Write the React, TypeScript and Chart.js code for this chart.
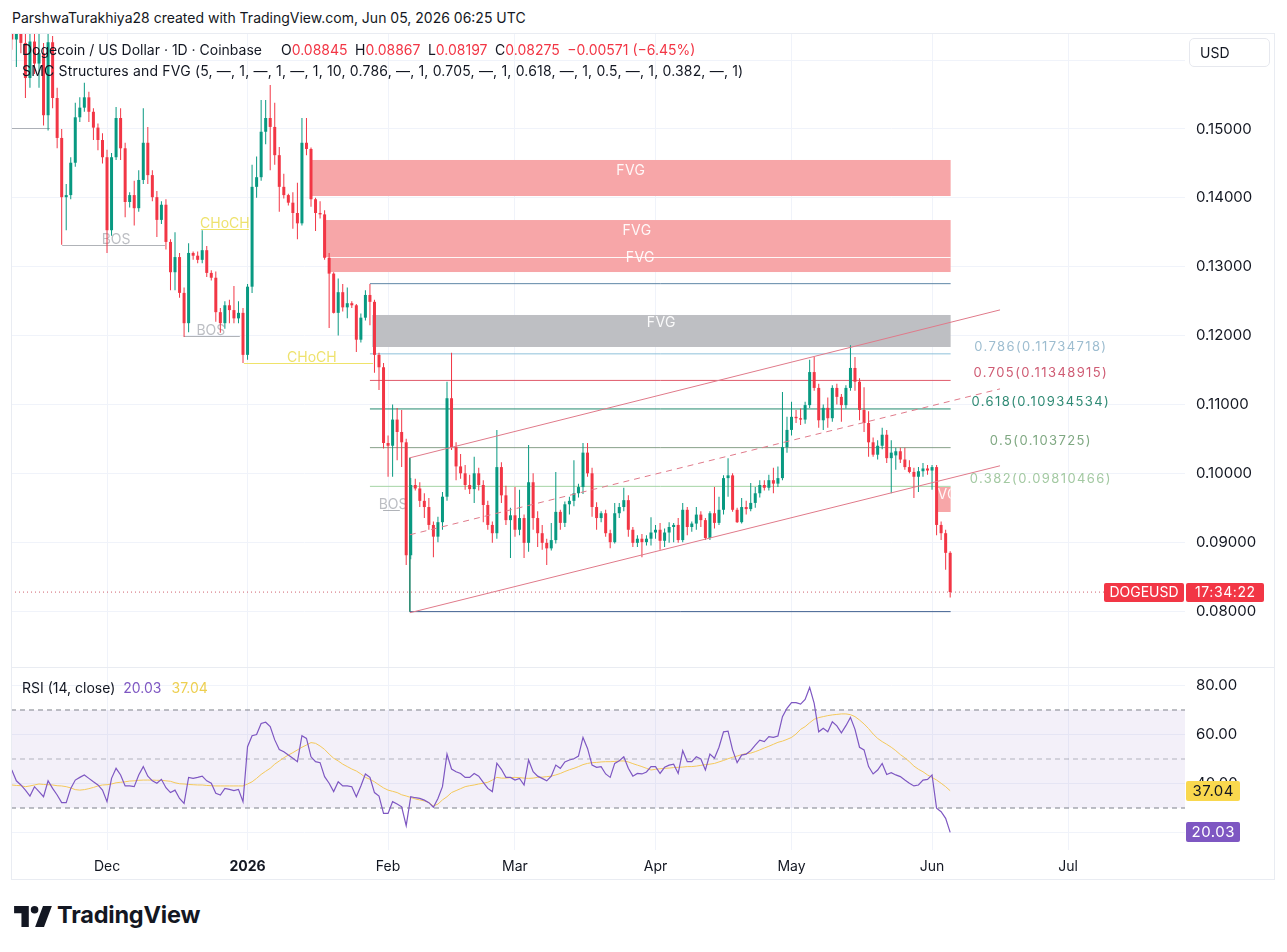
import React, { useEffect, useRef } from 'react';
import { Chart, registerables } from 'chart.js';

Chart.register(...registerables);

// ---------------- styles ----------------
const FONT = 'Inter, "Noto Sans", "DejaVu Sans", sans-serif';
const TEXT = '#131722';
const UP = '#089981';
const DOWN = '#F23645';
const GRID = '#F0F3FA';
const RSI_COLOR = '#7E57C2';
const RSI_MA_COLOR = '#F4C85A';
const RSI_MA_BADGE = '#F9D84E';
const CHANNEL_COLOR = '#E07A8A';
const ZONE_RED = '#F7A6A8';
const ZONE_GRAY = '#BEBFC3';

// ---------------- data ----------------
// day 0 = 1 Dec 2025, first candle = 10 Nov 2025, last = 5 Jun 2026 (1D DOGE/USD)
const FIRST_DAY = -21;

const OPEN = [
  0.1650, 0.1630, 0.1655, 0.1625, 0.1574, 0.1627, 0.1595, 0.1610, 0.1520, 0.1626,
  0.1545, 0.1487, 0.1401, 0.1404, 0.1451, 0.1517, 0.1531, 0.1546, 0.1525, 0.1502,
  0.1484, 0.1459, 0.1353, 0.1459, 0.1516, 0.1472, 0.1394, 0.1404, 0.1385, 0.1426,
  0.1480, 0.1433, 0.1401, 0.1368, 0.1390, 0.1336, 0.1292, 0.1314, 0.1262, 0.1218,
  0.1320, 0.1316, 0.1310, 0.1324, 0.1291, 0.1284, 0.1234, 0.1218, 0.1244, 0.1237,
  0.1225, 0.1233, 0.1172, 0.1271, 0.1416, 0.1430, 0.1496, 0.1516, 0.1503, 0.1462,
  0.1416, 0.1404, 0.1393, 0.1378, 0.1363, 0.1480, 0.1471, 0.1398, 0.1378, 0.1376,
  0.1313, 0.1290, 0.1233, 0.1263, 0.1241, 0.1247, 0.1244, 0.1194, 0.1226, 0.1259,
  0.1249, 0.1172, 0.1154, 0.1044, 0.1040, 0.1078, 0.1060, 0.1045, 0.0881, 0.0983,
  0.0978, 0.0960, 0.0951, 0.0925, 0.0908, 0.0929, 0.0966, 0.1109, 0.1038, 0.1010,
  0.1000, 0.0983, 0.0977, 0.1000, 0.0983, 0.0954, 0.0925, 0.0913, 0.1009, 0.0968,
  0.0932, 0.0939, 0.0918, 0.0935, 0.0899, 0.0987, 0.0935, 0.0913, 0.0899, 0.0891,
  0.0903, 0.0944, 0.0928, 0.0955, 0.0960, 0.0971, 0.0980, 0.1030, 0.1000, 0.0951,
  0.0935, 0.0942, 0.0913, 0.0900, 0.0942, 0.0951, 0.0961, 0.0918, 0.0899, 0.0905,
  0.0900, 0.0905, 0.0914, 0.0918, 0.0902, 0.0914, 0.0922, 0.0925, 0.0903, 0.0947,
  0.0922, 0.0927, 0.0940, 0.0932, 0.0906, 0.0942, 0.0928, 0.0947, 0.0993, 0.0997,
  0.0947, 0.0929, 0.0951, 0.0948, 0.0957, 0.0971, 0.0983, 0.0979, 0.0990, 0.0985,
  0.0993, 0.1038, 0.1063, 0.1082, 0.1080, 0.1078, 0.1099, 0.1147, 0.1124, 0.1077,
  0.1095, 0.1080, 0.1124, 0.1111, 0.1099, 0.1124, 0.1153, 0.1133, 0.1092, 0.1073,
  0.1045, 0.1027, 0.1040, 0.1056, 0.1022, 0.1026, 0.1032, 0.1020, 0.1009, 0.1002,
  0.0995, 0.1003, 0.1007, 0.1004, 0.1009, 0.0925, 0.0913, 0.08845,
];
const HIGH = [
  0.1690, 0.1668, 0.1680, 0.1650, 0.1650, 0.1660, 0.1640, 0.1625, 0.1645, 0.1635,
  0.1560, 0.1500, 0.1420, 0.1459, 0.1538, 0.1546, 0.1567, 0.1554, 0.1530, 0.1508,
  0.1494, 0.1470, 0.1465, 0.1532, 0.1530, 0.1480, 0.1408, 0.1425, 0.1440, 0.1530,
  0.1503, 0.1440, 0.1410, 0.1395, 0.1398, 0.1340, 0.1350, 0.1320, 0.1270, 0.1334,
  0.1322, 0.1322, 0.1353, 0.1330, 0.1295, 0.1293, 0.1240, 0.1250, 0.1252, 0.1272,
  0.1250, 0.1240, 0.1275, 0.1448, 0.1460, 0.1542, 0.1542, 0.1564, 0.1538, 0.1474,
  0.1435, 0.1406, 0.1408, 0.1422, 0.1516, 0.1516, 0.1473, 0.1400, 0.1395, 0.1382,
  0.1320, 0.1292, 0.1283, 0.1275, 0.1270, 0.1250, 0.1246, 0.1232, 0.1266, 0.1275,
  0.1252, 0.1175, 0.1160, 0.1055, 0.1100, 0.1095, 0.1092, 0.1050, 0.0993, 0.0992,
  0.0987, 0.0971, 0.0964, 0.0930, 0.0937, 0.0973, 0.1133, 0.1175, 0.1045, 0.1028,
  0.1012, 0.0998, 0.1024, 0.1008, 0.0990, 0.0960, 0.0930, 0.1063, 0.1016, 0.0982,
  0.0950, 0.0980, 0.0976, 0.0940, 0.1041, 0.1000, 0.0945, 0.0925, 0.0905, 0.0928,
  0.1002, 0.0947, 0.0959, 0.0966, 0.1019, 0.0985, 0.1044, 0.1044, 0.1008, 0.0958,
  0.0945, 0.0947, 0.0918, 0.0957, 0.0957, 0.0979, 0.0968, 0.0922, 0.0910, 0.0912,
  0.0910, 0.0936, 0.0925, 0.0928, 0.0920, 0.0929, 0.0928, 0.0935, 0.0957, 0.0951,
  0.0930, 0.0951, 0.0945, 0.0935, 0.0945, 0.0980, 0.0966, 0.0997, 0.1022, 0.1000,
  0.0950, 0.0964, 0.0960, 0.0986, 0.0980, 0.0990, 0.0990, 0.0998, 0.1008, 0.1010,
  0.1118, 0.1082, 0.1104, 0.1092, 0.1094, 0.1104, 0.1165, 0.1169, 0.1130, 0.1100,
  0.1110, 0.1128, 0.1130, 0.1115, 0.1128, 0.1186, 0.1169, 0.1138, 0.1125, 0.1090,
  0.1052, 0.1048, 0.1066, 0.1063, 0.1048, 0.1037, 0.1037, 0.1037, 0.1019, 0.1008,
  0.1009, 0.1015, 0.1012, 0.1012, 0.1012, 0.0930, 0.0918, 0.08867,
];
const LOW = [
  0.1615, 0.1590, 0.1610, 0.1545, 0.1560, 0.1580, 0.1560, 0.1505, 0.1498, 0.1530,
  0.1472, 0.1332, 0.1353, 0.1398, 0.1445, 0.1510, 0.1525, 0.1510, 0.1484, 0.1469,
  0.1450, 0.1320, 0.1345, 0.1455, 0.1455, 0.1372, 0.1386, 0.1360, 0.1380, 0.1420,
  0.1420, 0.1395, 0.1343, 0.1362, 0.1325, 0.1266, 0.1266, 0.1255, 0.1198, 0.1205,
  0.1310, 0.1305, 0.1305, 0.1285, 0.1280, 0.1220, 0.1204, 0.1210, 0.1218, 0.1218,
  0.1218, 0.1160, 0.1165, 0.1262, 0.1400, 0.1425, 0.1478, 0.1440, 0.1448, 0.1380,
  0.1399, 0.1389, 0.1355, 0.1340, 0.1360, 0.1462, 0.1387, 0.1352, 0.1370, 0.1310,
  0.1211, 0.1232, 0.1200, 0.1235, 0.1225, 0.1240, 0.1176, 0.1190, 0.1222, 0.1215,
  0.1146, 0.1121, 0.1036, 0.0995, 0.0995, 0.1019, 0.1009, 0.0867, 0.0875, 0.0975,
  0.0951, 0.0935, 0.0918, 0.0878, 0.0900, 0.0918, 0.0960, 0.1034, 0.0990, 0.0992,
  0.0976, 0.0970, 0.0957, 0.0975, 0.0929, 0.0918, 0.0899, 0.0905, 0.0957, 0.0925,
  0.0877, 0.0908, 0.0910, 0.0877, 0.0886, 0.0918, 0.0893, 0.0889, 0.0867, 0.0888,
  0.0898, 0.0918, 0.0922, 0.0940, 0.0952, 0.0965, 0.0970, 0.0995, 0.0937, 0.0918,
  0.0929, 0.0908, 0.0891, 0.0898, 0.0935, 0.0945, 0.0908, 0.0893, 0.0893, 0.0878,
  0.0895, 0.0895, 0.0905, 0.0889, 0.0893, 0.0899, 0.0900, 0.0899, 0.0900, 0.0910,
  0.0915, 0.0918, 0.0922, 0.0903, 0.0903, 0.0920, 0.0925, 0.0940, 0.0966, 0.0944,
  0.0928, 0.0927, 0.0940, 0.0945, 0.0950, 0.0965, 0.0975, 0.0975, 0.0971, 0.0980,
  0.0990, 0.1030, 0.1055, 0.1073, 0.1070, 0.1072, 0.1095, 0.1120, 0.1066, 0.1063,
  0.1066, 0.1075, 0.1100, 0.1075, 0.1094, 0.1120, 0.1120, 0.1077, 0.1060, 0.1024,
  0.1024, 0.1020, 0.1035, 0.1015, 0.0971, 0.1005, 0.1015, 0.1005, 0.1000, 0.0964,
  0.0973, 0.0995, 0.0998, 0.0976, 0.0910, 0.0903, 0.0860, 0.08197,
];
const CLOSE = [
  0.1630, 0.1655, 0.1625, 0.1574, 0.1627, 0.1595, 0.1610, 0.1520, 0.1626, 0.1545,
  0.1487, 0.1401, 0.1404, 0.1451, 0.1517, 0.1531, 0.1546, 0.1525, 0.1502, 0.1484,
  0.1459, 0.1353, 0.1459, 0.1516, 0.1472, 0.1394, 0.1404, 0.1385, 0.1426, 0.1480,
  0.1433, 0.1401, 0.1368, 0.1390, 0.1336, 0.1292, 0.1314, 0.1262, 0.1218, 0.1320,
  0.1316, 0.1310, 0.1324, 0.1291, 0.1284, 0.1234, 0.1218, 0.1244, 0.1237, 0.1225,
  0.1233, 0.1172, 0.1271, 0.1416, 0.1430, 0.1496, 0.1516, 0.1503, 0.1462, 0.1416,
  0.1404, 0.1393, 0.1378, 0.1363, 0.1480, 0.1471, 0.1398, 0.1378, 0.1376, 0.1313,
  0.1290, 0.1233, 0.1263, 0.1241, 0.1247, 0.1244, 0.1194, 0.1226, 0.1259, 0.1249,
  0.1172, 0.1154, 0.1044, 0.1040, 0.1078, 0.1060, 0.1045, 0.0881, 0.0983, 0.0978,
  0.0960, 0.0951, 0.0925, 0.0908, 0.0929, 0.0966, 0.1109, 0.1038, 0.1010, 0.1000,
  0.0983, 0.0977, 0.1000, 0.0983, 0.0954, 0.0925, 0.0913, 0.1009, 0.0968, 0.0932,
  0.0939, 0.0918, 0.0935, 0.0899, 0.0987, 0.0935, 0.0913, 0.0899, 0.0891, 0.0903,
  0.0944, 0.0928, 0.0955, 0.0960, 0.0971, 0.0980, 0.1030, 0.1000, 0.0951, 0.0935,
  0.0942, 0.0913, 0.0900, 0.0942, 0.0951, 0.0961, 0.0918, 0.0899, 0.0905, 0.0900,
  0.0905, 0.0914, 0.0918, 0.0902, 0.0914, 0.0922, 0.0925, 0.0903, 0.0947, 0.0922,
  0.0927, 0.0940, 0.0932, 0.0906, 0.0942, 0.0928, 0.0947, 0.0993, 0.0997, 0.0947,
  0.0929, 0.0951, 0.0948, 0.0957, 0.0971, 0.0983, 0.0979, 0.0990, 0.0985, 0.0993,
  0.1038, 0.1063, 0.1082, 0.1080, 0.1078, 0.1099, 0.1147, 0.1124, 0.1077, 0.1095,
  0.1080, 0.1124, 0.1111, 0.1099, 0.1124, 0.1153, 0.1133, 0.1092, 0.1073, 0.1045,
  0.1027, 0.1040, 0.1056, 0.1022, 0.1030, 0.1032, 0.1020, 0.1009, 0.1002, 0.0995,
  0.1003, 0.1007, 0.1004, 0.1009, 0.0925, 0.0913, 0.08845, 0.08275,
];

const RSI = [
  45.5, 41.1, 39.4, 37.3, 34.9, 38.7, 36.7, 34.6, 41.1, 38.0,
  35.3, 32.2, 32.2, 38.0, 41.4, 42.5, 43.5, 42.1, 40.7, 39.4,
  37.3, 32.6, 42.1, 46.2, 43.5, 39.0, 39.0, 38.7, 43.5, 46.9,
  43.0, 41.1, 40.1, 41.7, 38.3, 36.3, 37.3, 33.9, 31.9, 42.5,
  42.1, 42.5, 43.0, 41.1, 40.1, 36.0, 35.3, 38.0, 37.6, 37.1,
  37.6, 32.6, 55.0, 59.5, 60.0, 64.5, 65.0, 63.2, 57.8, 53.9,
  53.0, 51.6, 50.3, 48.9, 59.5, 58.4, 50.9, 48.9, 48.5, 42.8,
  40.1, 36.7, 40.7, 39.0, 39.0, 38.7, 34.6, 39.0, 43.9, 42.5,
  36.3, 34.9, 27.8, 27.8, 32.6, 31.6, 30.5, 22.8, 34.6, 34.2,
  33.9, 33.2, 32.2, 30.3, 33.9, 38.7, 52.0, 45.9, 44.8, 44.1,
  42.5, 42.5, 44.1, 43.0, 40.5, 38.0, 36.7, 48.3, 45.8, 42.5,
  42.5, 41.4, 42.1, 39.4, 49.6, 44.8, 43.0, 42.1, 41.1, 43.0,
  47.5, 46.2, 48.8, 49.6, 50.1, 51.2, 58.8, 54.3, 47.5, 46.6,
  46.9, 43.9, 42.5, 48.2, 49.3, 50.9, 46.2, 43.0, 44.1, 43.9,
  44.7, 46.9, 46.9, 44.1, 46.6, 47.5, 47.9, 44.1, 53.4, 48.9,
  48.9, 50.9, 50.0, 45.5, 52.0, 50.3, 54.8, 61.1, 61.4, 53.7,
  48.5, 51.6, 52.0, 53.4, 55.7, 57.7, 57.1, 59.1, 58.8, 59.4,
  67.3, 70.7, 73.0, 73.0, 72.4, 74.3, 79.2, 72.7, 61.1, 62.5,
  61.1, 65.2, 63.5, 60.7, 63.6, 67.0, 62.1, 54.8, 53.7, 46.9,
  43.9, 45.5, 48.2, 43.7, 44.4, 43.5, 42.8, 41.4, 40.1, 39.0,
  39.4, 41.4, 41.7, 43.5, 29.9, 28.5, 25.8, 20.03,
];
const RSI_MA = [
  39.4, 39.2, 39.1, 38.7, 39.0, 39.4, 39.8, 39.6, 39.5, 39.4,
  39.1, 39.0, 38.7, 38.2, 37.5, 37.3, 37.5, 37.9, 38.4, 39.0,
  39.4, 39.5, 39.8, 40.3, 40.5, 40.7, 41.0, 41.1, 41.3, 41.4,
  41.4, 41.4, 41.3, 41.3, 41.1, 40.9, 40.3, 39.9, 39.8, 39.6,
  39.5, 39.4, 39.4, 39.2, 39.1, 39.0, 39.0, 39.0, 39.0, 39.0,
  39.0, 39.0, 39.8, 40.7, 42.1, 43.7, 45.0, 46.2, 47.9, 49.2,
  50.5, 51.6, 52.6, 53.7, 54.8, 55.7, 56.7, 56.4, 55.3, 53.9,
  52.0, 50.3, 49.2, 47.9, 46.9, 45.9, 45.1, 43.9, 42.5, 41.7,
  40.7, 39.4, 38.2, 37.3, 36.8, 36.3, 35.4, 34.9, 34.3, 33.7,
  33.3, 32.9, 32.2, 30.8, 31.6, 33.3, 34.6, 36.3, 37.1, 37.9,
  38.7, 39.1, 39.4, 39.8, 40.1, 40.5, 41.4, 42.5, 42.2, 42.2,
  42.4, 42.5, 42.4, 42.2, 42.1, 42.2, 42.5, 42.6, 42.8, 43.0,
  43.5, 44.1, 44.9, 45.6, 46.2, 46.9, 47.7, 48.2, 48.5, 48.6,
  48.8, 48.9, 48.9, 49.0, 49.2, 49.2, 48.8, 48.1, 47.5, 46.9,
  46.2, 45.5, 45.8, 46.0, 46.2, 46.3, 46.5, 46.6, 46.7, 46.9,
  46.9, 47.1, 47.4, 47.7, 47.9, 48.2, 48.8, 49.4, 50.1, 50.7,
  51.2, 51.8, 52.2, 52.4, 53.0, 53.7, 54.5, 55.2, 56.0, 56.8,
  57.3, 58.0, 58.8, 60.2, 62.1, 63.2, 64.8, 66.2, 66.9, 67.3,
  67.7, 68.0, 68.2, 68.4, 68.4, 68.1, 67.3, 65.9, 64.3, 62.4,
  60.2, 58.4, 57.1, 56.0, 54.8, 53.4, 51.8, 50.5, 48.9, 47.1,
  45.8, 44.8, 43.5, 42.5, 41.4, 40.1, 38.7, 37.04,
];

const MONTH_DAYS = [0, 31, 62, 90, 121, 151, 182, 212];
const MONTH_LABELS = ['Dec', '2026', 'Feb', 'Mar', 'Apr', 'May', 'Jun', 'Jul'];
const PRICE_TICKS = [0.08, 0.09, 0.1, 0.11, 0.12, 0.13, 0.14, 0.15, 0.16];
const PRICE_LABELS = ['0.08000', '0.09000', '0.10000', '0.11000', '0.12000', '0.13000', '0.14000', '0.15000', ''];
const RSI_TICKS = [20, 40, 60, 80];
const RSI_LABELS = ['20.00', '40.00', '60.00', '80.00'];
const RSI_BANDS = [70, 50, 30];

const LAST_PRICE = 0.08275;
const LEGEND_OHLC = ['0.08845', '0.08867', '0.08197', '0.08275'];
const LEGEND_CHANGE = '\u22120.00571 (\u22126.45%)';
const RSI_LAST = '20.03';
const RSI_MA_LAST = '37.04';
const COUNTDOWN = '17:34:22';

// Fibonacci retracement
const FIB_RATIOS = ['0.786', '0.705', '0.618', '0.5', '0.382'];
const FIB_PRICES = [0.11734718, 0.11348915, 0.10934534, 0.103725, 0.09810466];
const FIB_ONE = 0.12754;
const FIB_ZERO = 0.07991;
const FIB_START = 58.0;
const FIB_ZERO_START = 66.8;
const FIB_END = 186.1;
const FIB_LABEL_DAY = 206.0;
const FIB_LINE_COLORS = ['#8FC1DA', '#E0596A', '#22896F', '#87A089', '#A5D4A5'];
const FIB_TEXT_COLORS = ['#9DBDD0', '#CF5B73', '#2F8A74', '#7FA882', '#A3C9A2'];

// parallel channel
const CHANNEL_DAYS = [66.8, 197.0];
const CHANNEL_UPPER = [0.10225, 0.12373];
const CHANNEL_MID = [0.09107, 0.11226];
const CHANNEL_LOWER = [0.07975, 0.10109];

// SMC fair value gaps
const FVG_ZONES = [
  { from: 45.0, to: 186.1, top: 0.14550, bottom: 0.14027, labelAt: 0.14390, kind: 'red' },
  { from: 47.7, to: 186.1, top: 0.13678, bottom: 0.13141, labelAt: 0.13519, kind: 'red' },
  { from: 49.2, to: 186.1, top: 0.13141, bottom: 0.12923, labelAt: 0.13127, kind: 'red' },
  { from: 58.5, to: 186.1, top: 0.12299, bottom: 0.11834, labelAt: 0.12183, kind: 'gray' },
  { from: 182.9, to: 186.1, top: 0.09801, bottom: 0.09438, labelAt: 0.09685, kind: 'red' },
];
// SMC structure breaks
const STRUCTURES = [
  { from: -21.2, to: -12.6, price: 0.15010, label: '', labelDay: 0, kind: 'bos' },
  { from: -9.9, to: 12.8, price: 0.13310, label: 'BOS', labelDay: 2.0, kind: 'bos' },
  { from: 20.7, to: 31.3, price: 0.13548, label: 'CHoCH', labelDay: 26.0, kind: 'choch' },
  { from: 17.0, to: 29.3, price: 0.11994, label: 'BOS', labelDay: 22.9, kind: 'bos' },
  { from: 30.2, to: 58.7, price: 0.11602, label: 'CHoCH', labelDay: 45.2, kind: 'choch' },
  { from: 60.9, to: 64.6, price: 0.09467, label: 'BOS', labelDay: 63.1, kind: 'bos' },
];

// axis ranges (chart-area edges)
const X_MIN = -21.18;
const X_MAX = 237.8;
const PRICE_MIN = 0.071725;
const PRICE_MAX = 0.163941;
const RSI_MIN = 12.86;
const RSI_MAX = 87.14;

// ---------------- helpers ----------------
const dayOf = (i: number) => FIRST_DAY + i;

function seg(x1: number, y1: number, x2: number, y2: number, color: string, dash: number[] = [], order = 0): any {
  return {
    type: 'line',
    data: [{ x: x1, y: y1 }, { x: x2, y: y2 }],
    borderColor: color,
    borderWidth: 1,
    borderDash: dash,
    pointRadius: 0,
    fill: false,
    tension: 0,
    order,
  };
}

function badge(ctx: any, x: number, yc: number, w: number, h: number, bg: string, fg: string, text: string, size: number, spacing: number) {
  ctx.fillStyle = bg;
  ctx.beginPath();
  ctx.roundRect(x, Math.round(yc - h / 2), w, h, 2);
  ctx.fill();
  ctx.fillStyle = fg;
  ctx.font = `${size}px ${FONT}`;
  ctx.letterSpacing = `${spacing}px`;
  ctx.textAlign = 'center';
  ctx.textBaseline = 'middle';
  ctx.fillText(text, x + w / 2 + spacing / 2, Math.round(yc) + 0.5);
  ctx.letterSpacing = '0px';
}

const smcPlugin: any = {
  id: 'smc',
  beforeDatasetsDraw(chart: any) {
    const { ctx, chartArea: a, scales } = chart;
    const x = scales.x;
    const y = scales.y;
    ctx.save();
    ctx.beginPath();
    ctx.rect(a.left, a.top, a.right - a.left, a.bottom - a.top);
    ctx.clip();
    // zones
    FVG_ZONES.forEach((z) => {
      const x1 = x.getPixelForValue(z.from);
      const x2 = x.getPixelForValue(z.to);
      const y1 = y.getPixelForValue(z.top);
      const y2 = y.getPixelForValue(z.bottom);
      ctx.fillStyle = z.kind === 'gray' ? ZONE_GRAY : ZONE_RED;
      ctx.fillRect(x1, y1, x2 - x1, y2 - y1);
      ctx.save();
      ctx.beginPath();
      if (x2 - x1 < 40) ctx.rect(x1, y1, x2 - x1, y2 - y1);
      else ctx.rect(x1, y1 - 8, x2 - x1, y2 - y1 + 16);
      ctx.clip();
      ctx.fillStyle = 'rgba(255,255,255,0.92)';
      ctx.font = `14px ${FONT}`;
      ctx.letterSpacing = '0.4px';
      ctx.textAlign = 'center';
      ctx.textBaseline = 'middle';
      ctx.fillText('FVG', (x1 + x2) / 2, y.getPixelForValue(z.labelAt));
      ctx.letterSpacing = '0px';
      ctx.restore();
    });
    // white separator between stacked zones
    const z2 = FVG_ZONES[2];
    ctx.fillStyle = 'rgba(255,255,255,0.9)';
    ctx.fillRect(x.getPixelForValue(z2.from), Math.round(y.getPixelForValue(z2.top)), x.getPixelForValue(z2.to) - x.getPixelForValue(z2.from), 1);
    // structure lines
    STRUCTURES.forEach((s) => {
      const py = Math.round(y.getPixelForValue(s.price)) + 0.5;
      ctx.strokeStyle = s.kind === 'choch' ? 'rgba(236,222,80,0.85)' : 'rgba(150,153,160,0.75)';
      ctx.lineWidth = 1;
      ctx.beginPath();
      ctx.moveTo(x.getPixelForValue(s.from), py);
      ctx.lineTo(x.getPixelForValue(s.to), py);
      ctx.stroke();
      if (s.label) {
        ctx.fillStyle = s.kind === 'choch' ? 'rgba(232,216,60,0.75)' : 'rgba(160,163,170,0.7)';
        ctx.font = `14px ${FONT}`;
        ctx.textAlign = 'center';
        ctx.textBaseline = 'middle';
        ctx.fillText(s.label, x.getPixelForValue(s.labelDay), py - 6);
      }
    });
    ctx.restore();
  },
  afterDatasetsDraw(chart: any) {
    const { ctx, scales } = chart;
    const x = scales.x;
    const y = scales.y;
    ctx.save();
    ctx.font = `13px ${FONT}`;
    ctx.letterSpacing = '1.4px';
    ctx.textAlign = 'center';
    ctx.textBaseline = 'middle';
    FIB_RATIOS.forEach((r, k) => {
      ctx.fillStyle = FIB_TEXT_COLORS[k];
      ctx.fillText(`${r}(${FIB_PRICES[k]})`, x.getPixelForValue(FIB_LABEL_DAY), y.getPixelForValue(FIB_PRICES[k]) - 7);
    });
    ctx.letterSpacing = '0px';
    ctx.restore();
  },
  afterDraw(chart: any) {
    const { ctx, chartArea: a, scales } = chart;
    const yc = scales.y.getPixelForValue(LAST_PRICE);
    ctx.save();
    badge(ctx, a.right - 81, yc, 80, 19, DOWN, '#FFFFFF', 'DOGEUSD', 14, 0);
    badge(ctx, a.right + 1, yc, 78, 19, DOWN, '#FFFFFF', COUNTDOWN, 14, 0.6);
    ctx.restore();
  },
};

const rsiBadgePlugin: any = {
  id: 'rsiBadges',
  afterDraw(chart: any) {
    const { ctx, chartArea: a, scales } = chart;
    ctx.save();
    badge(ctx, a.right + 1, scales.y.getPixelForValue(RSI_MA[RSI_MA.length - 1]), 54, 20, RSI_MA_BADGE, TEXT, RSI_MA_LAST, 15, 0.5);
    badge(ctx, a.right + 1, scales.y.getPixelForValue(RSI[RSI.length - 1]), 54, 20, RSI_COLOR, '#FFFFFF', RSI_LAST, 15, 0.5);
    ctx.restore();
  },
};

function mainConfig(): any {
  const colors = OPEN.map((o, i) => (CLOSE[i] >= o ? UP : DOWN));
  const datasets: any[] = [
    {
      type: 'bar',
      data: OPEN.map((_, i) => ({ x: dayOf(i), y: [LOW[i], HIGH[i]] })),
      backgroundColor: colors,
      barThickness: 1,
      grouped: false,
      inflateAmount: 0,
      order: 3,
    },
    {
      type: 'bar',
      data: OPEN.map((o, i) => ({ x: dayOf(i), y: [o, CLOSE[i]] })),
      backgroundColor: colors,
      barThickness: 3,
      minBarLength: 1,
      grouped: false,
      inflateAmount: 0,
      order: 2,
    },
    // fib levels
    seg(FIB_START, FIB_ONE, FIB_END, FIB_ONE, '#5E86A6', [], 5),
    ...FIB_PRICES.map((p, k) => seg(FIB_START, p, FIB_END, p, FIB_LINE_COLORS[k], [], 5)),
    seg(FIB_ZERO_START, FIB_ZERO, FIB_END, FIB_ZERO, '#3F5F8F', [], 5),
    seg(FIB_ZERO_START, CHANNEL_UPPER[0], FIB_ZERO_START, FIB_ZERO, '#2E8C74', [], 5),
    // last price line
    seg(X_MIN, LAST_PRICE, X_MAX, LAST_PRICE, 'rgba(200,70,85,0.85)', [1, 3], 5),
    // channel
    seg(CHANNEL_DAYS[0], CHANNEL_UPPER[0], CHANNEL_DAYS[1], CHANNEL_UPPER[1], CHANNEL_COLOR, [], 0),
    seg(CHANNEL_DAYS[0], CHANNEL_MID[0], CHANNEL_DAYS[1], CHANNEL_MID[1], CHANNEL_COLOR, [6, 5], 0),
    seg(CHANNEL_DAYS[0], CHANNEL_LOWER[0], CHANNEL_DAYS[1], CHANNEL_LOWER[1], CHANNEL_COLOR, [], 0),
  ];
  return {
    type: 'bar',
    data: { datasets },
    plugins: [smcPlugin],
    options: {
      responsive: false,
      animation: false,
      events: [],
      layout: { padding: 0 },
      plugins: { legend: { display: false }, tooltip: { enabled: false } },
      scales: {
        x: {
          type: 'linear',
          min: X_MIN,
          max: X_MAX,
          offset: false,
          grid: { color: GRID, drawTicks: false, offset: false },
          border: { display: false },
          ticks: { display: false },
          afterBuildTicks: (s: any) => { s.ticks = MONTH_DAYS.map((v) => ({ value: v })); },
          afterFit: (s: any) => { s.height = 0; s.paddingLeft = 0; s.paddingRight = 0; },
        },
        y: {
          type: 'linear',
          position: 'right',
          min: PRICE_MIN,
          max: PRICE_MAX,
          grid: { color: GRID, drawTicks: false },
          border: { display: false },
          ticks: {
            color: TEXT,
            padding: 11,
            font: { family: FONT, size: 15 },
            callback: (_v: any, i: number) => PRICE_LABELS[i],
          },
          afterBuildTicks: (s: any) => { s.ticks = PRICE_TICKS.map((v) => ({ value: v })); },
          afterFit: (s: any) => { s.width = 90; s.paddingTop = 0; s.paddingBottom = 0; },
        },
      },
    },
  };
}

function rsiConfig(): any {
  const pts = (arr: number[]) => arr.map((v, i) => ({ x: dayOf(i), y: v }));
  return {
    type: 'line',
    data: {
      datasets: [
        {
          data: [{ x: X_MIN, y: RSI_BANDS[0] }, { x: X_MAX, y: RSI_BANDS[0] }],
          borderWidth: 0,
          pointRadius: 0,
          fill: { value: RSI_BANDS[2] },
          backgroundColor: 'rgba(126,87,194,0.09)',
          order: 9,
        },
        seg(X_MIN, RSI_BANDS[0], X_MAX, RSI_BANDS[0], '#7D808A', [5, 4], 8),
        seg(X_MIN, RSI_BANDS[1], X_MAX, RSI_BANDS[1], 'rgba(125,128,138,0.55)', [5, 4], 8),
        seg(X_MIN, RSI_BANDS[2], X_MAX, RSI_BANDS[2], '#7D808A', [5, 4], 8),
        { data: pts(RSI_MA), borderColor: RSI_MA_COLOR, borderWidth: 1, pointRadius: 0, tension: 0, fill: false, order: 2 },
        { data: pts(RSI), borderColor: RSI_COLOR, borderWidth: 1.2, pointRadius: 0, tension: 0, fill: false, order: 1 },
      ],
    },
    plugins: [rsiBadgePlugin],
    options: {
      responsive: false,
      animation: false,
      events: [],
      layout: { padding: 0 },
      plugins: { legend: { display: false }, tooltip: { enabled: false } },
      scales: {
        x: {
          type: 'linear',
          min: X_MIN,
          max: X_MAX,
          grid: { color: GRID, drawTicks: false },
          border: { display: false },
          ticks: {
            autoSkip: false,
            maxRotation: 0,
            padding: 8,
            color: TEXT,
            font: (c: any) => ({
              family: FONT,
              size: 14,
              weight: c.tick && MONTH_LABELS[MONTH_DAYS.indexOf(c.tick.value)] === '2026' ? 'bold' : 'normal',
            }),
            callback: (_v: any, i: number) => MONTH_LABELS[i],
          },
          afterBuildTicks: (s: any) => { s.ticks = MONTH_DAYS.map((v) => ({ value: v })); },
          afterFit: (s: any) => { s.height = 30; s.paddingLeft = 0; s.paddingRight = 0; },
        },
        y: {
          type: 'linear',
          position: 'right',
          min: RSI_MIN,
          max: RSI_MAX,
          grid: { color: GRID, drawTicks: false },
          border: { display: false },
          ticks: {
            color: TEXT,
            padding: 11,
            font: { family: FONT, size: 15 },
            callback: (_v: any, i: number) => RSI_LABELS[i],
          },
          afterBuildTicks: (s: any) => { s.ticks = RSI_TICKS.map((v) => ({ value: v })); },
          afterFit: (s: any) => { s.width = 90; s.paddingTop = 0; s.paddingBottom = 0; },
        },
      },
    },
  };
}

function TvLogo() {
  return (
    <svg style={{ position: 'absolute', left: 14, top: 906 }} width={38} height={21} viewBox="0 0 36 20">
      <path d="M0 0H14V20H7V7H0Z" fill={TEXT} />
      <circle cx="19.5" cy="3.6" r="3.6" fill={TEXT} />
      <path d="M27.5 0H36L28.5 20H20Z" fill={TEXT} />
    </svg>
  );
}

export default function App() {
  const mainRef = useRef<HTMLCanvasElement>(null);
  const rsiRef = useRef<HTMLCanvasElement>(null);

  useEffect(() => {
    Chart.defaults.font.family = FONT;
    const main = new Chart(mainRef.current as HTMLCanvasElement, mainConfig());
    const rsi = new Chart(rsiRef.current as HTMLCanvasElement, rsiConfig());
    return () => {
      main.destroy();
      rsi.destroy();
    };
  }, []);

  const abs: React.CSSProperties = { position: 'absolute', whiteSpace: 'pre' };
  const red = { color: DOWN };
  const gap = { marginLeft: 7.5 };

  return (
    <div style={{ position: 'absolute', left: 0, top: 0, width: 1287, height: 952, background: '#FFFFFF', overflow: 'hidden', fontFamily: FONT, color: TEXT }}>
      <div style={{ ...abs, left: 12, top: 9, fontSize: 14, lineHeight: '18px' }}>
        ParshwaTurakhiya28 created with TradingView.com, Jun 05, 2026 06:25 UTC
      </div>

      <canvas ref={mainRef} width={1264} height={635} style={{ position: 'absolute', left: 11, top: 33 }} />
      <canvas ref={rsiRef} width={1264} height={212} style={{ position: 'absolute', left: 11, top: 668 }} />

      <div style={{ position: 'absolute', left: 11, top: 33, width: 1264, height: 847, border: '1px solid #E9ECF2', boxSizing: 'border-box', pointerEvents: 'none' }} />
      <div style={{ position: 'absolute', left: 11, top: 667, width: 1264, height: 1, background: '#E9ECF2' }} />

      <div style={{ ...abs, left: 22, top: 41, fontSize: 14, lineHeight: '18px' }}>
        <span>Dogecoin / US Dollar · 1D · Coinbase</span>
        <span style={{ marginLeft: 19 }}>O</span><span style={red}>{LEGEND_OHLC[0]}</span>
        <span style={gap}>H</span><span style={red}>{LEGEND_OHLC[1]}</span>
        <span style={gap}>L</span><span style={red}>{LEGEND_OHLC[2]}</span>
        <span style={gap}>C</span><span style={red}>{LEGEND_OHLC[3]}</span>
        <span style={{ ...red, ...gap }}>{LEGEND_CHANGE}</span>
      </div>
      <div style={{ ...abs, left: 22, top: 62, fontSize: 14, lineHeight: '18px', letterSpacing: 0.18 }}>
        SMC Structures and FVG (5, —, 1, —, 1, —, 1, 10, 0.786, —, 1, 0.705, —, 1, 0.618, —, 1, 0.5, —, 1, 0.382, —, 1)
      </div>

      <div style={{ ...abs, left: 22, top: 679, fontSize: 14, lineHeight: '18px' }}>
        <span>RSI (14, close)</span>
        <span style={{ color: RSI_COLOR, marginLeft: 8 }}>{RSI_LAST}</span>
        <span style={{ color: '#EDCF50', marginLeft: 10 }}>{RSI_MA_LAST}</span>
      </div>

      <div style={{ position: 'absolute', left: 1189, top: 38, width: 81, height: 29, border: '1px solid #E6E8EE', borderRadius: 5, boxSizing: 'border-box', background: '#FFFFFF' }}>
        <div style={{ position: 'absolute', left: 10, top: 5, fontSize: 14, lineHeight: '18px' }}>USD</div>
      </div>

      <TvLogo />
      <div style={{ ...abs, left: 57, top: 901, fontSize: 23.5, lineHeight: '28px', fontWeight: 700, letterSpacing: -0.2 }}>TradingView</div>
    </div>
  );
}
